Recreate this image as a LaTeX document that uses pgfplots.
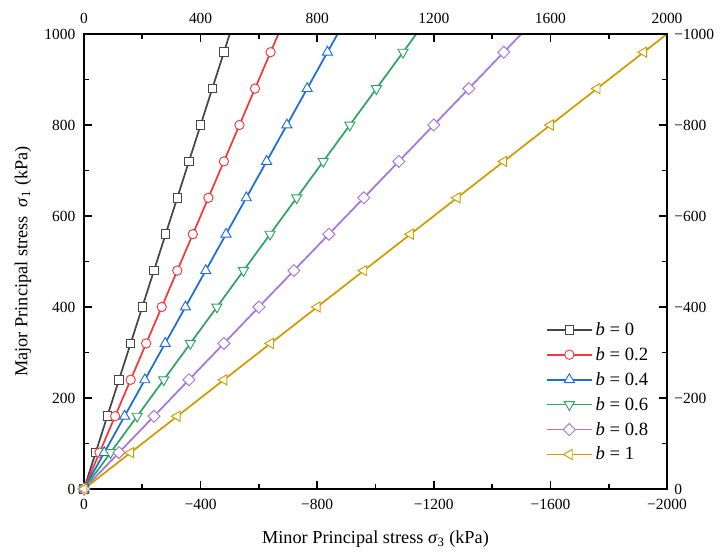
\documentclass[border=0pt]{standalone}
\usepackage{fontspec}
\setmainfont{Liberation Serif}
\usepackage{pgfplots}
\pgfplotsset{compat=1.18}
\definecolor{c0}{HTML}{474747}
\definecolor{c1}{HTML}{F23A3A}
\definecolor{c2}{HTML}{1C6CDC}
\definecolor{c3}{HTML}{2FA463}
\definecolor{c4}{HTML}{A576DE}
\definecolor{c5}{HTML}{D09C00}
\tikzset{mo/.style={solid, fill=white, line width=0.7pt}}
\pgfplotsset{
  common/.style={
    scale only axis, width=437.25pt, height=341.25pt,
    xmin=0, xmax=2000, ymin=0, ymax=1000,
    xtick={0,400,...,2000}, ytick={0,200,...,1000},
    minor tick num=1, tick align=inside,
    major tick length=6pt, minor tick length=3.5pt,
    axis line style={line width=1.5pt},
    every tick/.style={line width=1.3pt, black},
    tick label style={font=\fontsize{11.6}{13}\selectfont},
    /pgf/number format/assume math mode=true,
    /pgf/number format/1000 sep={},
  },
  ser/.style={line width=1.3pt, mark size=3.2pt,
    mark indices={1,2,3,4,5,6,7,8,9,10,11,12,13}},
}
\begin{document}
\begin{tikzpicture}
\begin{axis}[common,
  xtick pos=bottom, ytick pos=left,
  xticklabel style={yshift=-4pt},
  yticklabel style={xshift=-3pt},
  xticklabels={0,−400,−800,−1200,−1600,−2000},
  xlabel={Minor Principal stress \textit{σ}\textsubscript{3} (kPa)},
  ylabel={Major Principal stress\ \ \textit{σ}\textsubscript{1} (kPa)},
  xlabel style={at={(axis description cs:0.5,-0.111)}, anchor=center},
  ylabel style={at={(axis description cs:-0.1047,0.5)}, anchor=center},
  label style={font=\fontsize{13.7}{16}\selectfont},
  legend style={draw=none, fill=none, at={(0.975,0.05)}, anchor=south east,
    font=\fontsize{14}{16}\selectfont, row sep=3.5pt, inner sep=1pt,
    nodes={inner sep=2pt}},
  legend cell align=left,
  legend image code/.code={\draw[#1, mark indices={2}] plot coordinates {(0cm,0cm) (0.6cm,0cm) (1.2cm,0cm)};},
]
\addplot[ser, c0, mark=square*, mark options={mo}] coordinates {(0,0) (40,80) (80,160) (120,240) (160,320) (200,400) (240,480) (280,560) (320,640) (360,720) (400,800) (440,880) (480,960) (500,1000)};
\addlegendentry{\textit{b} = 0}
\addplot[ser, c1, mark=*, mark size=3.5pt, mark options={mo}] coordinates {(0,0) (53.3,80) (106.7,160) (160,240) (213.3,320) (266.7,400) (320,480) (373.3,560) (426.7,640) (480,720) (533.3,800) (586.7,880) (640,960) (666.7,1000)};
\addlegendentry{\textit{b} = 0.2}
\addplot[ser, c2, mark=triangle*, mark size=4.4pt, mark options={mo}] coordinates {(0,0) (69.6,80) (139.2,160) (208.8,240) (278.4,320) (348,400) (417.6,480) (487.2,560) (556.8,640) (626.4,720) (696,800) (765.6,880) (835.2,960) (870,1000)};
\addlegendentry{\textit{b} = 0.4}
\addplot[ser, c3, mark=triangle*, mark size=4.4pt, mark options={mo, rotate=180}] coordinates {(0,0) (91.2,80) (182.4,160) (273.6,240) (364.8,320) (456,400) (547.2,480) (638.4,560) (729.6,640) (820.8,720) (912,800) (1003.2,880) (1094.4,960) (1140,1000)};
\addlegendentry{\textit{b} = 0.6}
\addplot[ser, c4, mark=square*, mark size=3.2pt, mark options={mo, rotate=45}] coordinates {(0,0) (120,80) (240,160) (360,240) (480,320) (600,400) (720,480) (840,560) (960,640) (1080,720) (1200,800) (1320,880) (1440,960) (1500,1000)};
\addlegendentry{\textit{b} = 0.8}
\addplot[ser, c5, mark=triangle*, mark size=4.4pt, mark options={mo, rotate=90}] coordinates {(0,0) (160,80) (320,160) (480,240) (640,320) (800,400) (960,480) (1120,560) (1280,640) (1440,720) (1600,800) (1760,880) (1920,960) (2000,1000)};
\addlegendentry{\textit{b} = 1}
\end{axis}
\begin{axis}[common,
  axis x line*=top, axis y line*=right,
  xticklabel style={yshift=4pt},
  yticklabel style={xshift=2pt},
  yticklabels={0,−200,−400,−600,−800,−1000},
]
\end{axis}
\pgfresetboundingbox
\path (-63pt,-52.5pt) rectangle ++(540pt,419.25pt);
\end{tikzpicture}
\end{document}
